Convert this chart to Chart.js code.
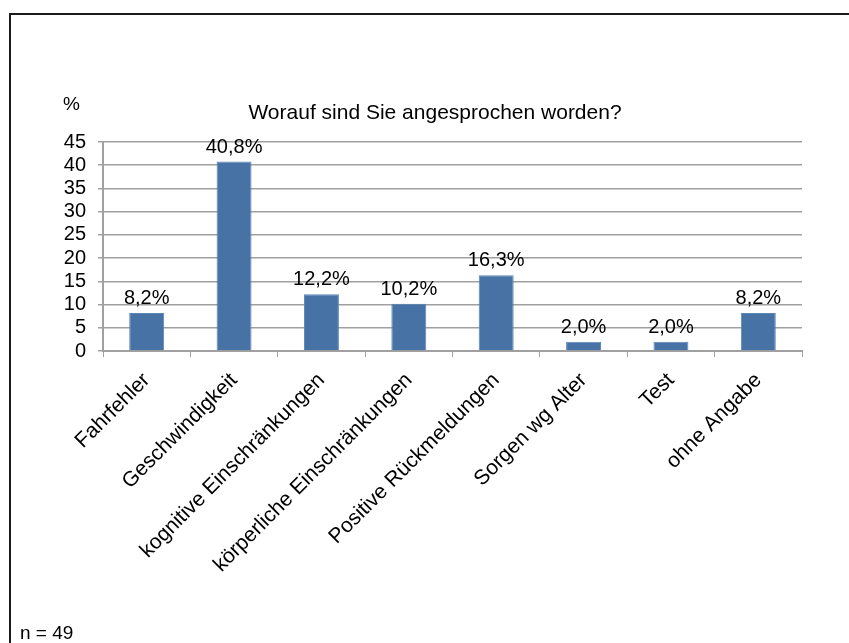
<!DOCTYPE html>
<html>
<head>
<meta charset="utf-8">
<script src="https://cdn.jsdelivr.net/npm/chart.js@4/dist/chart.umd.min.js"></script>
<style>
  html, body { margin: 0; padding: 0; background: #ffffff; }
  #wrap { width: 849px; height: 643px; position: relative; }
</style>
</head>
<body>
<div id="wrap"><canvas id="c" width="849" height="643"></canvas></div>
<script>
const categories = ["Fahrfehler", "Geschwindigkeit", "kognitive Einschränkungen", "körperliche Einschränkungen", "Positive Rückmeldungen", "Sorgen wg Alter", "Test", "ohne Angabe"];
const values = [8.2, 40.8, 12.2, 10.2, 16.3, 2.0, 2.0, 8.2];
const yTicks = [0, 5, 10, 15, 20, 25, 30, 35, 40, 45];
const titleText = "Worauf sind Sie angesprochen worden?";
const unitText = "%";
const noteText = "n = 49";

const FONT = "Arial, 'Liberation Sans', sans-serif";
const fmt = v => v.toFixed(1).replace('.', ',') + '%';

const decor = {
  id: 'decor',
  beforeDraw(chart) {
    const ctx = chart.ctx;
    ctx.save();
    ctx.fillStyle = '#ffffff';
    ctx.fillRect(0, 0, chart.width, chart.height);
    ctx.strokeStyle = '#1a1a1a';
    ctx.lineWidth = 2;
    ctx.beginPath();
    ctx.moveTo(10, chart.height);
    ctx.lineTo(10, 14);
    ctx.lineTo(chart.width, 14);
    ctx.stroke();
    ctx.restore();
  },
  afterDraw(chart) {
    const ctx = chart.ctx;
    ctx.save();
    ctx.fillStyle = '#000000';
    ctx.textBaseline = 'alphabetic';
    ctx.textAlign = 'center';
    ctx.font = '21px ' + FONT;
    ctx.fillText(titleText, 435, 119);
    ctx.textAlign = 'left';
    ctx.font = '19px ' + FONT;
    ctx.fillText(unitText, 63, 110);
    ctx.fillText(noteText, 20, 639);
    ctx.restore();
  },
  afterDatasetsDraw(chart) {
    const ctx = chart.ctx;
    const meta = chart.getDatasetMeta(0);
    ctx.save();
    ctx.fillStyle = '#000000';
    ctx.font = '20px ' + FONT;
    ctx.textAlign = 'center';
    ctx.textBaseline = 'alphabetic';
    meta.data.forEach((el, i) => {
      ctx.fillText(fmt(values[i]), el.x, el.y - 9);
    });
    ctx.restore();
  }
};

new Chart(document.getElementById('c'), {
  type: 'bar',
  data: {
    labels: categories,
    datasets: [{
      data: values,
      backgroundColor: '#4672a5',
      borderColor: '#5b86b8',
      borderWidth: 1,
      barPercentage: 0.4,
      categoryPercentage: 1.0
    }]
  },
  options: {
    responsive: false,
    animation: false,
    devicePixelRatio: 1,
    layout: { padding: { top: 142, left: 20, right: 47, bottom: 0 } },
    plugins: { legend: { display: false }, tooltip: { enabled: false }, title: { display: false } },
    scales: {
      x: {
        grid: { display: true, drawOnChartArea: false, drawTicks: true, tickLength: 6, color: '#a0a0a0', offset: true },
        border: { display: true, color: '#a0a0a0', width: 2 },
        ticks: {
          color: '#000000', font: { family: FONT, size: 21 },
          minRotation: 45, maxRotation: 45, autoSkip: false, padding: 11
        },
        afterFit(scale) { scale.height = 292; }
      },
      y: {
        min: 0, max: 45,
        afterBuildTicks(scale) { scale.ticks = yTicks.map(v => ({ value: v })); },
        grid: { color: '#a0a0a0', lineWidth: 1.5, tickLength: 5, drawTicks: true },
        border: { display: true, color: '#a0a0a0', width: 2 },
        ticks: { color: '#000000', font: { family: FONT, size: 20 }, padding: 12, autoSkip: false },
        afterFit(scale) { scale.width = 83; }
      }
    }
  },
  plugins: [decor]
});
</script>
</body>
</html>
